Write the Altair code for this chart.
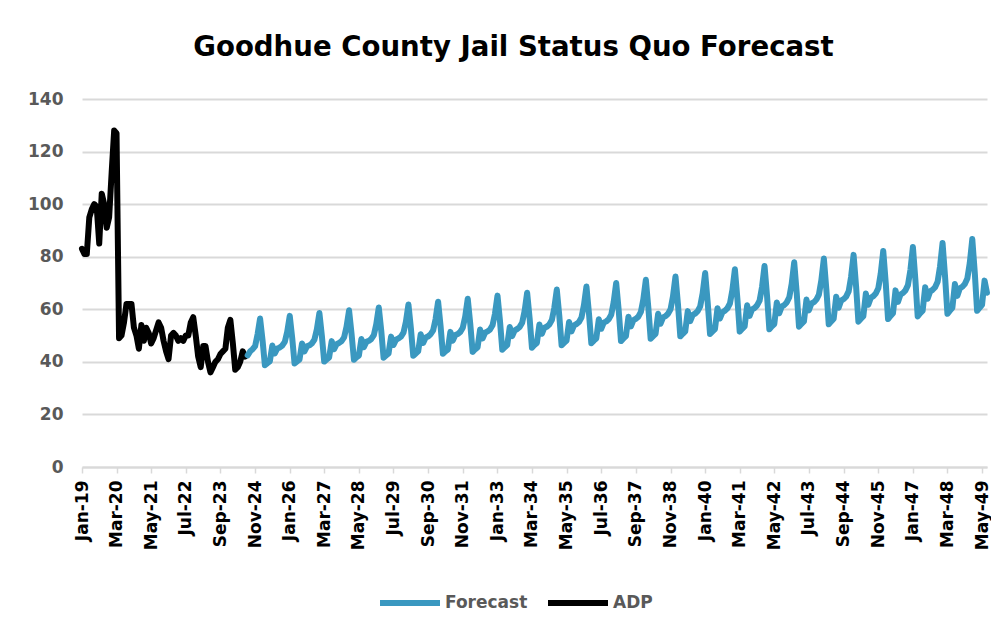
import altair as alt
import pandas as pd
from datetime import datetime

TITLE = "Goodhue County Jail Status Quo Forecast"
SERIES = ["Forecast", "ADP"]
COLORS = ["#3A98C0", "#000000"]

ADP_START = "2019-01-01"
ADP = [83, 81, 81, 95, 98, 100, 99, 85, 104, 100,
       91, 95, 112, 128, 127, 49, 50, 55, 62, 62,
       62, 53, 50, 45, 54, 48, 53, 51, 47, 49,
       52, 55, 53, 48, 44, 41, 50, 51, 50, 48,
       49, 48, 50, 50, 55, 57, 50, 42, 38, 46,
       46, 40, 36, 38, 40, 41, 43, 44, 45, 53,
       56, 47, 37, 38, 40, 44, 42]

FORECAST_START = "2024-08-01"
FORECAST = [
    42.5, 44.0, 44.8, 46.0, 50.5,
    56.5, 48.0, 38.7, 39.5, 40.2, 46.2, 43.2, 45.1, 45.5, 46.2, 47.6, 51.5,
    57.5, 48.9, 39.4, 40.2, 40.9, 47.0, 44.0, 45.9, 46.3, 47.0, 48.5, 52.4,
    58.6, 49.7, 40.1, 40.9, 41.7, 47.9, 44.8, 46.7, 47.2, 47.9, 49.3, 53.4,
    59.6, 50.6, 40.8, 41.7, 42.4, 48.7, 45.6, 47.6, 48.0, 48.7, 50.2, 54.3,
    60.7, 51.6, 41.6, 42.4, 43.2, 49.6, 46.4, 48.4, 48.9, 49.6, 51.1, 55.3,
    61.8, 52.5, 42.3, 43.2, 44.0, 50.5, 47.2, 49.3, 49.7, 50.5, 52.0, 56.3,
    62.9, 53.4, 43.1, 44.0, 44.7, 51.4, 48.1, 50.2, 50.6, 51.4, 53.0, 57.3,
    64.0, 54.4, 43.8, 44.8, 45.5, 52.3, 48.9, 51.1, 51.6, 52.3, 53.9, 58.3,
    65.2, 55.4, 44.6, 45.6, 46.4, 53.3, 49.8, 52.0, 52.5, 53.3, 54.9, 59.4,
    66.3, 56.4, 45.4, 46.4, 47.2, 54.2, 50.7, 53.0, 53.4, 54.2, 55.9, 60.5,
    67.5, 57.4, 46.3, 47.2, 48.1, 55.2, 51.6, 53.9, 54.4, 55.2, 56.9, 61.6,
    68.7, 58.4, 47.1, 48.1, 48.9, 56.2, 52.6, 54.9, 55.4, 56.2, 57.9, 62.7,
    70.0, 59.5, 47.9, 48.9, 49.8, 57.2, 53.5, 55.9, 56.4, 57.2, 59.0, 63.8,
    71.2, 60.5, 48.8, 49.8, 50.7, 58.3, 54.5, 56.9, 57.4, 58.3, 60.0, 64.9,
    72.5, 61.6, 49.7, 50.7, 51.6, 59.3, 55.5, 57.9, 58.4, 59.3, 61.1, 66.1,
    73.8, 62.7, 50.6, 51.6, 52.5, 60.4, 56.5, 58.9, 59.5, 60.4, 62.2, 67.3,
    75.2, 63.9, 51.5, 52.6, 53.5, 61.5, 57.5, 60.0, 60.5, 61.5, 63.3, 68.5,
    76.5, 65.0, 52.4, 53.5, 54.4, 62.6, 58.5, 61.1, 61.6, 62.6, 64.5, 69.7,
    77.9, 66.2, 53.4, 54.5, 55.4, 63.7, 59.6, 62.2, 62.7, 63.7, 65.6, 71.0,
    79.3, 67.4, 54.3, 55.4, 56.4, 64.8, 60.6, 63.3, 63.9, 64.8, 66.8, 72.3,
    80.7, 68.6, 55.3, 56.4, 57.4, 66.0, 61.7, 64.4, 65.0, 66.0, 68.0, 73.6,
    82.2, 69.8, 56.3, 57.5, 58.5, 67.2, 62.8, 65.6, 66.2, 67.2, 69.2, 74.9,
    83.7, 71.1, 57.3, 58.5, 59.5, 68.4, 64.0, 66.8, 67.4, 68.4, 70.5, 76.3,
    85.2, 72.4, 58.3, 59.5, 60.6, 69.6, 65.1, 68.0, 68.6, 69.6, 71.7, 77.6,
    86.7, 73.7, 59.4, 60.6, 61.7, 70.9, 66.3,
]

X_TICK_LABELS = ["Jan-19", "Mar-20", "May-21", "Jul-22", "Sep-23", "Nov-24",
                 "Jan-26", "Mar-27", "May-28", "Jul-29", "Sep-30", "Nov-31",
                 "Jan-33", "Mar-34", "May-35", "Jul-36", "Sep-37", "Nov-38",
                 "Jan-40", "Mar-41", "May-42", "Jul-43", "Sep-44", "Nov-45",
                 "Jan-47", "Mar-48", "May-49"]
Y_TICKS = [0, 20, 40, 60, 80, 100, 120, 140]
X_END = "2049-07-01"


def month_dates(start, n):
    return [d.strftime("%Y-%m-%d") for d in pd.date_range(start=start, periods=n, freq="MS")]


rows = []
for d, v in zip(month_dates(ADP_START, len(ADP)), ADP):
    rows.append({"date": d, "value": v, "series": "ADP"})
for d, v in zip(month_dates(FORECAST_START, len(FORECAST)), FORECAST):
    rows.append({"date": d, "value": v, "series": "Forecast"})
df = pd.DataFrame(rows)


def dt(d):
    return alt.DateTime(year=d.year, month=d.month, date=1, utc=True)


tick_values = [dt(datetime.strptime(s, "%b-%y")) for s in X_TICK_LABELS]
x_domain = [dt(datetime.strptime(ADP_START, "%Y-%m-%d")), dt(datetime.strptime(X_END, "%Y-%m-%d"))]

FONT = "DejaVu Sans"

chart = alt.Chart(df).mark_line(strokeWidth=6, strokeCap="round", strokeJoin="round").encode(
    x=alt.X("date:T",
            scale=alt.Scale(type="utc", domain=x_domain, nice=False),
            axis=alt.Axis(values=tick_values,
                          labelExpr="utcFormat(datum.value, '%b-%y')",
                          labelAngle=-90, labelAlign="right", labelBaseline="middle",
                          labelFont=FONT, labelFontSize=17, labelFontWeight="bold",
                          labelColor="#000000", labelPadding=7, labelOverlap=False,
                          labelFlush=False, domainColor="#d9d9d9", domainWidth=2,
                          tickColor="#d9d9d9", tickSize=6, tickWidth=1.5,
                          grid=False, title=None)),
    y=alt.Y("value:Q",
            scale=alt.Scale(domain=[0, 140], nice=False, zero=True),
            axis=alt.Axis(values=Y_TICKS, labelFont=FONT, labelFontSize=17,
                          labelFontWeight="bold", labelColor="#595959",
                          labelPadding=19, domain=False, ticks=False,
                          gridColor="#d9d9d9", gridWidth=2, title=None)),
    color=alt.Color("series:N",
                    scale=alt.Scale(domain=SERIES, range=COLORS),
                    legend=alt.Legend(orient="none", legendX=295, legendY=471,
                                      direction="horizontal", title=None,
                                      symbolType="stroke", symbolSize=3600,
                                      symbolStrokeWidth=6, labelFont=FONT,
                                      labelFontSize=17, labelFontWeight="bold",
                                      labelColor="#595959", labelOffset=2,
                                      columnPadding=8)),
    detail="series:N",
).properties(
    width=905,
    height=368,
    title=alt.TitleParams(TITLE, font="DejaVu Sans",
                          fontSize=27.6, fontWeight="bold", color="#000000",
                          anchor="middle", dx=-21, offset=28),
    autosize=alt.AutoSizeParams(type="none"),
    padding={"left": 74, "top": 91, "right": 4, "bottom": 150},
).configure_view(stroke=None)

chart.save("out.html", embed_options={"renderer": "svg", "actions": False})
